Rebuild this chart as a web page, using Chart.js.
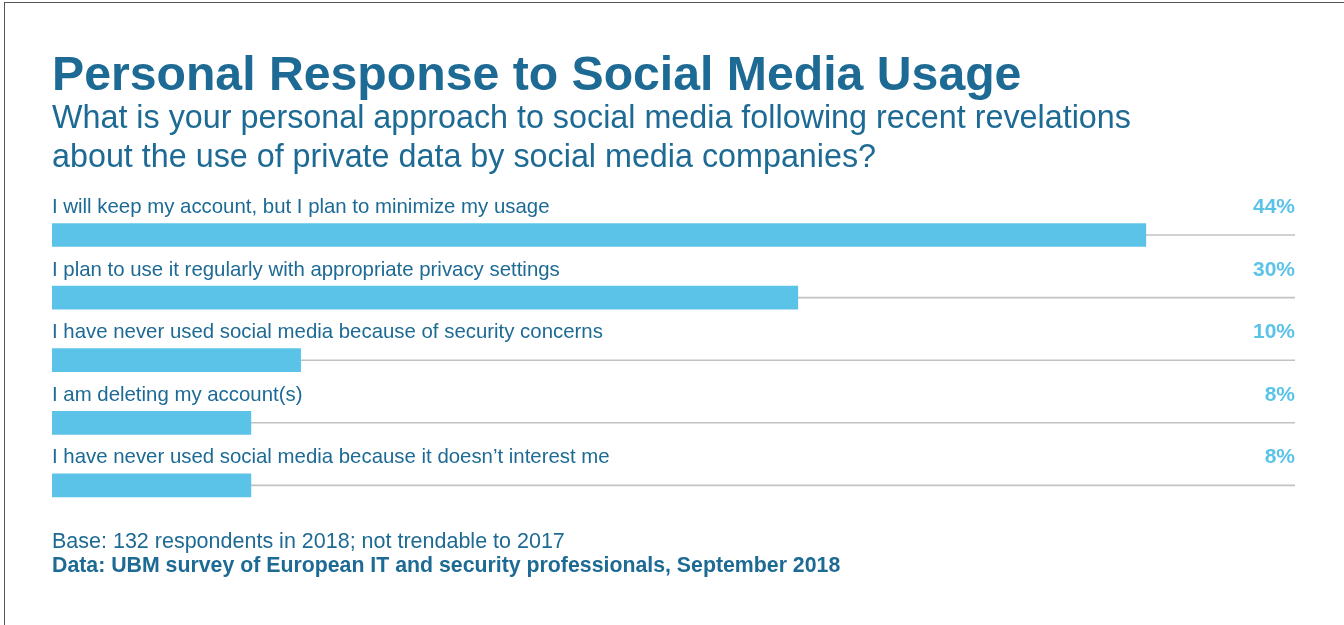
<!DOCTYPE html>
<html>
<head>
<meta charset="utf-8">
<title>Personal Response to Social Media Usage</title>
<script src="https://cdn.jsdelivr.net/npm/chart.js@4/dist/chart.umd.min.js"></script>
<style>
  html, body { margin: 0; padding: 0; background: #ffffff; overflow: hidden; }
  #wrap { position: relative; width: 1344px; height: 625px; }
  #chart { position: absolute; left: 0; top: 0; }
  #frame {
    position: absolute; left: 4px; top: 2px; right: -2px; bottom: -2px;
    border-top: 1.5px solid #555555; border-left: 1.5px solid #555555;
    pointer-events: none;
  }
</style>
</head>
<body>
<div id="wrap">
  <canvas id="chart" width="1344" height="625"></canvas>
  <div id="frame"></div>
</div>
<script>
// Survey answers, top to bottom
const categories = [
  "I will keep my account, but I plan to minimize my usage",
  "I plan to use it regularly with appropriate privacy settings",
  "I have never used social media because of security concerns",
  "I am deleting my account(s)",
  "I have never used social media because it doesn\u2019t interest me"
];
// Share of respondents (%)
const shares = [44, 30, 10, 8, 8];
// Value-axis range (%)
const axisMin = 0;
const axisMax = 50;

const titleText = "Personal Response to Social Media Usage";
const subtitleLines = [
  "What is your personal approach to social media following recent revelations",
  "about the use of private data by social media companies?"
];
const baseNote = "Base: 132 respondents in 2018; not trendable to 2017";
const sourceNote = "Data: UBM survey of European IT and security professionals, September 2018";

const FONT = '"Liberation Sans", Arial, Helvetica, sans-serif';
const DARK = '#1d6a94';
const LIGHT = '#5cc3e8';

// Thin grey rule running through the middle of every row
const rowLines = {
  id: 'rowLines',
  beforeDatasetsDraw(chart) {
    const { ctx, chartArea, scales } = chart;
    ctx.save();
    ctx.strokeStyle = '#c2c2c2';
    ctx.lineWidth = 1.6;
    categories.forEach((c, i) => {
      const y = scales.y.getPixelForValue(i);
      ctx.beginPath();
      ctx.moveTo(chartArea.left, y);
      ctx.lineTo(chartArea.right, y);
      ctx.stroke();
    });
    ctx.restore();
  }
};

// Answer text above each bar and its percentage at the right edge
const rowText = {
  id: 'rowText',
  afterDatasetsDraw(chart) {
    const { ctx, chartArea, scales } = chart;
    ctx.save();
    ctx.textBaseline = 'alphabetic';
    categories.forEach((c, i) => {
      const y = scales.y.getPixelForValue(i) - 22;
      ctx.font = '20.4px ' + FONT;
      ctx.fillStyle = DARK;
      ctx.textAlign = 'left';
      ctx.fillText(c, chartArea.left, y);
      ctx.font = 'bold 21px ' + FONT;
      ctx.fillStyle = LIGHT;
      ctx.textAlign = 'right';
      ctx.fillText(shares[i] + '%', chartArea.right, y);
    });
    ctx.restore();
  }
};

// Heading block and source notes
const headings = {
  id: 'headings',
  afterDraw(chart) {
    const { ctx } = chart;
    const x = chart.chartArea.left;
    ctx.save();
    ctx.textAlign = 'left';
    ctx.textBaseline = 'alphabetic';
    ctx.fillStyle = DARK;
    ctx.font = 'bold 48.2px ' + FONT;
    ctx.fillText(titleText, x, 90);
    ctx.font = '32.3px ' + FONT;
    ctx.fillText(subtitleLines[0], x, 127.5);
    ctx.fillText(subtitleLines[1], x, 167);
    ctx.font = '21.5px ' + FONT;
    ctx.fillText(baseNote, x, 548);
    ctx.font = 'bold 21.3px ' + FONT;
    ctx.fillText(sourceNote, x, 572);
    ctx.restore();
  }
};

new Chart(document.getElementById('chart'), {
  type: 'bar',
  data: {
    labels: categories,
    datasets: [{
      data: shares,
      backgroundColor: LIGHT,
      borderWidth: 0,
      barThickness: 23
    }]
  },
  options: {
    indexAxis: 'y',
    responsive: false,
    animation: false,
    devicePixelRatio: 1,
    layout: { padding: { left: 52, right: 49, top: 203.7, bottom: 108.3 } },
    scales: {
      x: { display: false, min: axisMin, max: axisMax },
      y: { display: false }
    },
    plugins: {
      legend: { display: false },
      tooltip: { enabled: false },
      title: { display: false }
    }
  },
  plugins: [rowLines, rowText, headings]
});
</script>
</body>
</html>
